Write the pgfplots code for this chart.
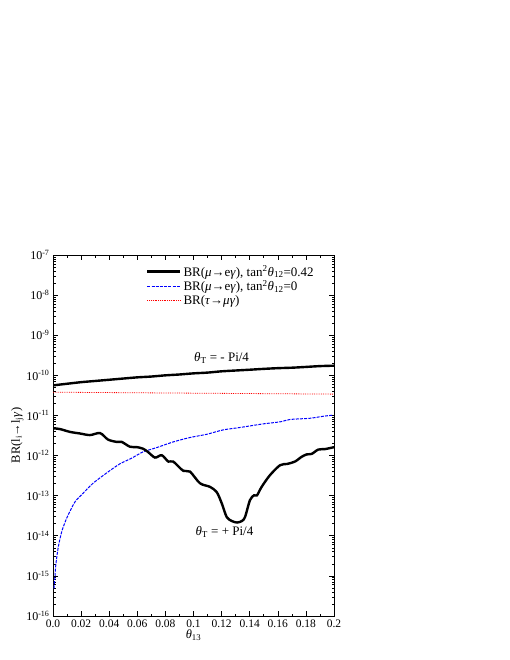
\documentclass[border=0pt]{standalone}
\usepackage{fontspec}
\setmainfont{Liberation Serif}
\usepackage{pgfplots}
\pgfplotsset{compat=1.18}

\begin{document}
\begin{tikzpicture}
\begin{axis}[
  at={(0,0)}, anchor=south west,
  scale only axis, width=281pt, height=361pt,
  ymode=log, xmin=0, xmax=0.2, ymin=1e-16, ymax=1e-7,
  xtick={0,0.02,...,0.2},
  xticklabels={0.0,0.02,0.04,0.06,0.08,0.1,0.12,0.14,0.16,0.18,0.2},
  minor x tick num=1,
  ytick={1e-16,1e-15,1e-14,1e-13,1e-12,1e-11,1e-10,1e-9,1e-8,1e-7},
  yticklabels={10\textsuperscript{-16},10\textsuperscript{-15},10\textsuperscript{-14},
    10\textsuperscript{-13},10\textsuperscript{-12},10\textsuperscript{-11},
    10\textsuperscript{-10},10\textsuperscript{-9},10\textsuperscript{-8},10\textsuperscript{-7}},
  tick align=inside, major tick length=5pt, minor tick length=2.5pt,
  axis line style={line width=0.9pt},
  tick style={black, line width=0.6pt},
  x tick label style={font=\fontsize{11.5}{13}\selectfont},
  y tick label style={font=\fontsize{12}{14}\selectfont},
  xlabel={\textit{θ}\textsubscript{13}},
  ylabel={BR(l\textsubscript{i}→l\textsubscript{j}\textit{γ})},
  label style={font=\fontsize{12.5}{14}\selectfont},
  xlabel style={yshift=4pt},
  ylabel style={yshift=-4pt},
  legend style={at={(0.32,0.982)}, anchor=north west, draw=none, fill=none,
    font=\fontsize{13}{14}\selectfont, row sep=-1pt},
  legend cell align=left,
  legend image code/.code={\draw[#1] (0pt,0pt) -- (25pt,0pt);
    \path (0pt,0pt) -- (33pt,0pt);},
]
\addplot[black, line width=2.4pt, smooth, tension=0.4] coordinates {
  (0.000,5.62e-11)(0.010,6.17e-11)(0.020,6.76e-11)(0.030,7.24e-11)
  (0.040,7.76e-11)(0.050,8.32e-11)(0.060,8.91e-11)(0.070,9.33e-11)
  (0.080,1.00e-10)(0.090,1.05e-10)(0.100,1.12e-10)(0.110,1.17e-10)
  (0.120,1.26e-10)(0.130,1.32e-10)(0.140,1.38e-10)(0.150,1.45e-10)
  (0.160,1.51e-10)(0.170,1.55e-10)(0.180,1.62e-10)(0.190,1.70e-10)
  (0.200,1.74e-10)};
\addlegendentry{BR(\textit{μ}→e\textit{γ}), tan\textsuperscript{2}\textit{θ}\textsubscript{12}=0.42}
\addplot[blue, line width=1pt, dash pattern=on 3pt off 1.2pt, smooth, tension=0.4] coordinates {
  (0.0007,4.9e-16)(0.0014,9.5e-16)(0.0021,2.04e-15)(0.0038,5.37e-15)
  (0.0062,1.26e-14)(0.0095,2.63e-14)(0.0144,5.89e-14)(0.0166,7.76e-14)
  (0.0214,1.15e-13)(0.0285,2.04e-13)(0.0379,3.63e-13)(0.0474,6.17e-13)
  (0.0557,8.51e-13)(0.0640,1.23e-12)(0.0738,1.58e-12)(0.0856,2.19e-12)
  (0.0975,2.82e-12)(0.1094,3.39e-12)(0.1212,4.37e-12)(0.1331,5.01e-12)
  (0.1497,6.17e-12)(0.1616,6.92e-12)(0.1687,7.94e-12)(0.1829,8.51e-12)
  (0.1924,9.55e-12)(0.1995,1.02e-11)};
\addlegendentry{BR(\textit{μ}→e\textit{γ}), tan\textsuperscript{2}\textit{θ}\textsubscript{12}=0}
\addplot[red, line width=0.8pt, densely dotted] coordinates {
  (0.000,3.8e-11)(0.200,3.4e-11)};
\addlegendentry{BR(\textit{τ}→\textit{μγ})}
\addplot[black, line width=2.4pt, smooth, tension=0.5, forget plot] coordinates {
  (0.0000,4.79e-12)(0.0050,4.57e-12)(0.0121,3.89e-12)(0.0192,3.55e-12)
  (0.0263,3.24e-12)(0.0335,3.63e-12)(0.0391,2.51e-12)(0.0453,2.19e-12)
  (0.0489,2.19e-12)(0.0548,1.66e-12)(0.0598,1.62e-12)(0.0641,1.48e-12)
  (0.0676,1.23e-12)(0.0726,8.91e-13)(0.0774,1.02e-12)(0.0821,7.08e-13)
  (0.0856,7.08e-13)(0.0927,4.17e-13)(0.0975,3.98e-13)(0.1046,2.04e-13)
  (0.1117,1.66e-13)(0.1165,1.23e-13)(0.1201,6.46e-14)(0.1236,2.95e-14)
  (0.1272,2.34e-14)(0.1310,2.14e-14)(0.1345,2.34e-14)(0.1367,2.95e-14)
  (0.1402,7.76e-14)(0.1431,1.02e-13)(0.1452,1.02e-13)(0.1485,1.66e-13)
  (0.1544,3.24e-13)(0.1616,5.75e-13)(0.1665,6.17e-13)(0.1722,7.08e-13)
  (0.1770,9.33e-13)(0.1806,1.07e-12)(0.1841,1.10e-12)(0.1888,1.41e-12)
  (0.1936,1.45e-12)(0.2000,1.62e-12)};
\node[font=\fontsize{13}{15}\selectfont] at (axis cs:0.120,2.69e-10)
  {\textit{θ}\textsubscript{T} = - Pi/4};
\node[font=\fontsize{13}{15}\selectfont] at (axis cs:0.122,1.23e-14)
  {\textit{θ}\textsubscript{T} = + Pi/4};
\end{axis}
\useasboundingbox (-53pt,-44pt) rectangle (457pt,616pt);
\end{tikzpicture}
\end{document}
